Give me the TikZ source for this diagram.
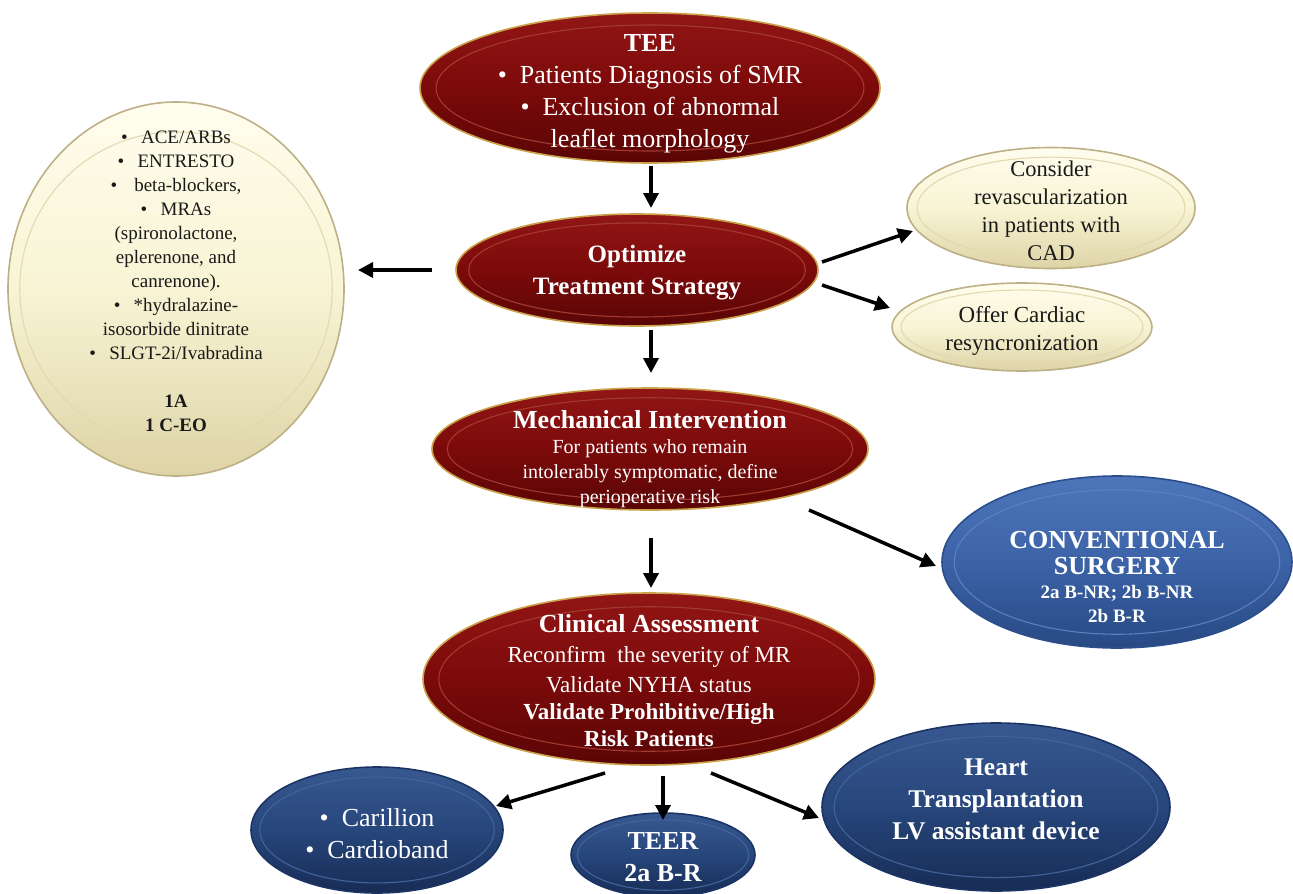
\documentclass[tikz,border=0pt]{standalone}
\usepackage{fontspec}
\setmainfont{Liberation Serif}
\usetikzlibrary{shapes.geometric,arrows.meta,calc}
\definecolor{redtop}{HTML}{921616}
\definecolor{redmid}{HTML}{7C0A0A}
\definecolor{redbot}{HTML}{5A0505}
\definecolor{redgold}{HTML}{C9A24A}
\definecolor{redline}{HTML}{A33A30}
\definecolor{yeltop}{HTML}{FFFDEE}
\definecolor{yelmid}{HTML}{F8F4D4}
\definecolor{yelbot}{HTML}{DDD3A6}
\definecolor{yeledge}{HTML}{BDB086}
\definecolor{yelline}{HTML}{E2D9B0}
\definecolor{bltop}{HTML}{4D75BA}
\definecolor{blmid}{HTML}{3C63A8}
\definecolor{blbot}{HTML}{284983}
\definecolor{bledge}{HTML}{2C4E8C}
\definecolor{blline}{HTML}{5A80C0}
\definecolor{nvtop}{HTML}{375891}
\definecolor{nvmid}{HTML}{27467B}
\definecolor{nvbot}{HTML}{172C55}
\definecolor{nvedge}{HTML}{1B3464}
\definecolor{nvline}{HTML}{41639C}
\tikzset{
  bevel/.style={path picture={
    \draw[#1, line width=1.1pt] let \p1=($(path picture bounding box.north east)-(path picture bounding box.center)$) in
      (path picture bounding box.center) ellipse [x radius={0.93*\x1}, y radius={0.84*\y1}];}},
  redell/.style={ellipse, inner sep=0pt, draw=redgold, line width=1.6pt,
    top color=redtop, bottom color=redbot, middle color=redmid, bevel=redline},
  yelell/.style={ellipse, inner sep=0pt, draw=yeledge, line width=1.6pt,
    top color=yeltop, bottom color=yelbot, middle color=yelmid, bevel=yelline},
  bluell/.style={ellipse, inner sep=0pt, draw=bledge, line width=1.6pt,
    top color=bltop, bottom color=blbot, middle color=blmid, bevel=blline},
  navell/.style={ellipse, inner sep=0pt, draw=nvedge, line width=1.6pt,
    top color=nvtop, bottom color=nvbot, middle color=nvmid, bevel=nvline},
  wtxt/.style={text=white, align=flush center, text width=440pt, inner sep=0pt},
  btxt/.style={text=black!90, align=flush center, text width=330pt, inner sep=0pt},
  arr/.style={line width=3.5pt, -{Triangle[length=15pt,width=15pt]}}
}
\begin{document}
\begin{tikzpicture}[x=1pt,y=-1pt]
\useasboundingbox (0,0) rectangle (1293,894);
% ellipses
\node[redell, minimum width=460pt, minimum height=150pt] (tee) at (650,88) {};
\node[redell, minimum width=362pt, minimum height=112pt] (opt) at (637,270) {};
\node[yelell, minimum width=336pt, minimum height=374pt] (left) at (176,289) {};
\node[yelell, minimum width=288pt, minimum height=121pt] (cons) at (1051,208) {};
\node[yelell, minimum width=260pt, minimum height=88pt] (offer) at (1022,327) {};
\node[redell, minimum width=436pt, minimum height=122pt] (mech) at (650,449) {};
\node[bluell, minimum width=350pt, minimum height=172pt] (conv) at (1117,562) {};
\node[redell, minimum width=452pt, minimum height=172pt] (clin) at (649,679) {};
\node[navell, minimum width=252pt, minimum height=126pt] (car) at (377,830) {};
\node[navell, minimum width=184pt, minimum height=84pt] (teer) at (663,855) {};
\node[navell, minimum width=348pt, minimum height=168pt] (heart) at (996,807) {};
% texts
\node[wtxt, font=\fontsize{26}{32}\selectfont] (teet) at ([shift={(0,6)}]tee.center)
  {\textbf{TEE}\\ \textbullet\hspace{0.5em}Patients Diagnosis of SMR\\ \textbullet\hspace{0.5em}Exclusion of abnormal\\ leaflet morphology};
\node[wtxt, font=\fontsize{25}{32}\selectfont\bfseries] (optt) at ([shift={(0,3)}]opt.center)
  {Optimize\\ Treatment Strategy};
\node[btxt, font=\fontsize{19}{24}\selectfont] (leftt) at ([shift={(0,-8)}]left.center)
  {\textbullet\hspace{0.7em}ACE/ARBs\\ \textbullet\hspace{0.7em}ENTRESTO\\ \textbullet\hspace{0.9em}beta-blockers,\\ \textbullet\hspace{0.7em}MRAs\\ (spironolactone,\\ eplerenone, and\\ canrenone).\\ \textbullet\hspace{0.7em}*hydralazine-\\ isosorbide dinitrate\\ \textbullet\hspace{0.7em}SLGT-2i/Ivabradina\\[24pt] \textbf{1A}\\ \textbf{1 C-EO}};
\node[btxt, font=\fontsize{22.5}{28}\selectfont] (const) at ([shift={(0,3)}]cons.center)
  {Consider\\ revascularization\\ in patients with\\ CAD};
\node[btxt, font=\fontsize{23}{28}\selectfont] (offert) at ([shift={(0,4)}]offer.center)
  {Offer Cardiac\\ resyncronization};
\node[wtxt] (mecht) at ([shift={(0,10)}]mech.center)
  {{\fontsize{26}{28}\selectfont\bfseries Mechanical Intervention\par}
   {\fontsize{20}{25}\selectfont For patients who remain\\ intolerably symptomatic, define\\ perioperative risk\par}};
\node[wtxt] (convt) at ([shift={(0,15)}]conv.center)
  {{\fontsize{26}{26}\selectfont\bfseries CONVENTIONAL\\ SURGERY\par}
   {\fontsize{19}{24}\selectfont\bfseries 2a B-NR; 2b B-NR\\ 2b B-R\par}};
\node[wtxt] (clint) at ([shift={(0,2)}]clin.center)
  {{\fontsize{26}{30}\selectfont\bfseries Clinical Assessment\par}
   {\fontsize{23}{30}\selectfont Reconfirm\ \ the severity of MR\\ Validate NYHA status\par}
   {\fontsize{23}{27}\selectfont\bfseries Validate Prohibitive/High\\ Risk Patients\par}};
\node[wtxt, font=\fontsize{26}{32}\selectfont] (cart) at ([shift={(0,4)}]car.center)
  {\textbullet\hspace{0.5em}Carillion\\ \textbullet\hspace{0.5em}Cardioband};
\node[wtxt, font=\fontsize{26}{32}\selectfont\bfseries] (teert) at ([shift={(0,2)}]teer.center)
  {TEER\\ 2a B-R};
\node[wtxt, font=\fontsize{25.5}{32}\selectfont\bfseries] (heartt) at ([shift={(0,-8)}]heart.center)
  {Heart\\ Transplantation\\ LV assistant device};
% arrows
\draw[arr] ([shift={(1,78)}]tee.center) -- ([shift={(14,-62)}]opt.center);
\draw[arr] ([shift={(-205,0)}]opt.center) -- ([shift={(182,-19)}]left.center);
\draw[arr] ([shift={(185,-8)}]opt.center) -- ([shift={(-138,23)}]cons.center);
\draw[arr] ([shift={(185,15)}]opt.center) -- ([shift={(-132,-19)}]offer.center);
\draw[arr] ([shift={(14,60)}]opt.center) -- ([shift={(1,-76)}]mech.center);
\draw[arr] ([shift={(159,61)}]mech.center) -- ([shift={(-181,4)}]conv.center);
\draw[arr] ([shift={(1,89)}]mech.center) -- ([shift={(2,-91)}]clin.center);
\draw[arr] ([shift={(-44,94)}]clin.center) -- ([shift={(119,-24)}]car.center);
\draw[arr] ([shift={(14,97)}]clin.center) -- ([shift={(0,-35)}]teer.center);
\draw[arr] ([shift={(62,94)}]clin.center) -- ([shift={(-177,11)}]heart.center);
\end{tikzpicture}
\end{document}
